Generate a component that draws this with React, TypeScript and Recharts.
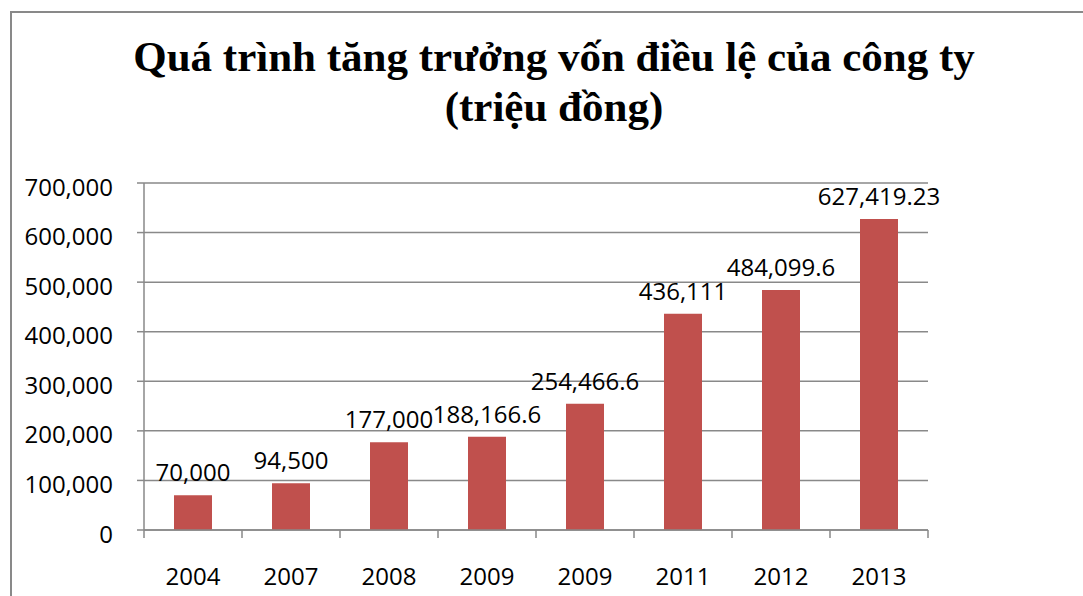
import React from 'react';
import { BarChart, Bar, XAxis, YAxis, CartesianGrid, LabelList } from 'recharts';

const years = ['2004', '2007', '2008', '2009', '2009', '2011', '2012', '2013'];
const capital = [70000, 94500, 177000, 188166.6, 254466.6, 436111, 484099.6, 627419.23];
const yTicks = [0, 100000, 200000, 300000, 400000, 500000, 600000, 700000];

const titleLines = ['Quá trình tăng trưởng vốn điều lệ của công ty', '(triệu đồng)'];

const data = years.map((year, i) => ({ year, value: capital[i] }));

const GRAY = '#898989';
const FONT = '"Open Sans", sans-serif';
const FS = 24;
const X_TICK_SIZE = 6;
const X_TICK_MARGIN = 2;
const fmt = (v: number) => v.toLocaleString('en-US', { maximumFractionDigits: 2 });

// year label plus the tick marks on the category borders (Excel style)
function YearTick(props: any) {
  const { x, y, payload, index, visibleTicksCount } = props;
  const half = payload.offset ?? 0;
  const axisY = y - X_TICK_SIZE - X_TICK_MARGIN;
  return (
    <g>
      <line x1={x - half} x2={x - half} y1={axisY} y2={axisY + 8} stroke={GRAY} strokeWidth={1.5} />
      {index === visibleTicksCount - 1 && (
        <line x1={x + half} x2={x + half} y1={axisY} y2={axisY + 8} stroke={GRAY} strokeWidth={1.5} />
      )}
      <text x={x} y={axisY + 55} textAnchor="middle" fill="#000" fontSize={FS} fontFamily={FONT}>
        {payload.value}
      </text>
    </g>
  );
}

export default function App() {
  return (
    <div style={{ position: 'fixed', inset: 0, overflow: 'hidden', background: '#fff' }}>
      <div
        style={{
          position: 'absolute',
          left: 10,
          top: 11,
          width: 1200,
          height: 700,
          border: `2px solid ${GRAY}`,
        }}
      />
      <div
        style={{
          position: 'absolute',
          left: 0,
          top: 32,
          width: 1108,
          textAlign: 'center',
          fontFamily: '"Liberation Serif", serif',
          fontWeight: 'bold',
          fontSize: 43,
          lineHeight: '50px',
          color: '#000',
        }}
      >
        {titleLines.map((t, i) => (
          <div key={i}>{t}</div>
        ))}
      </div>
      <div style={{ position: 'absolute', left: 0, top: 0 }}>
        <BarChart
          width={1083}
          height={596}
          data={data}
          margin={{ top: 183, right: 155, bottom: 0, left: 10 }}
        >
          <CartesianGrid vertical={false} stroke={GRAY} strokeWidth={1.5} />
          <XAxis
            dataKey="year"
            height={66}
            axisLine={{ stroke: GRAY, strokeWidth: 1.5 }}
            tickLine={false}
            tickSize={X_TICK_SIZE}
            tickMargin={X_TICK_MARGIN}
            interval={0}
            tick={<YearTick />}
          />
          <YAxis
            width={134}
            domain={[0, 700000]}
            ticks={yTicks}
            interval={0}
            tickSize={7}
            tickMargin={24}
            tickFormatter={fmt}
            axisLine={{ stroke: GRAY, strokeWidth: 1.5 }}
            tickLine={{ stroke: GRAY, strokeWidth: 1.5 }}
            tick={{ fill: '#000', fontSize: FS, fontFamily: FONT, dy: 4 }}
          />
          <Bar dataKey="value" fill="#C0504D" barSize={38} isAnimationActive={false}>
            <LabelList
              dataKey="value"
              position="top"
              offset={14}
              formatter={(v: any) => fmt(Number(v))}
              fill="#000"
              fontSize={FS}
              fontFamily={FONT}
            />
          </Bar>
        </BarChart>
      </div>
    </div>
  );
}
